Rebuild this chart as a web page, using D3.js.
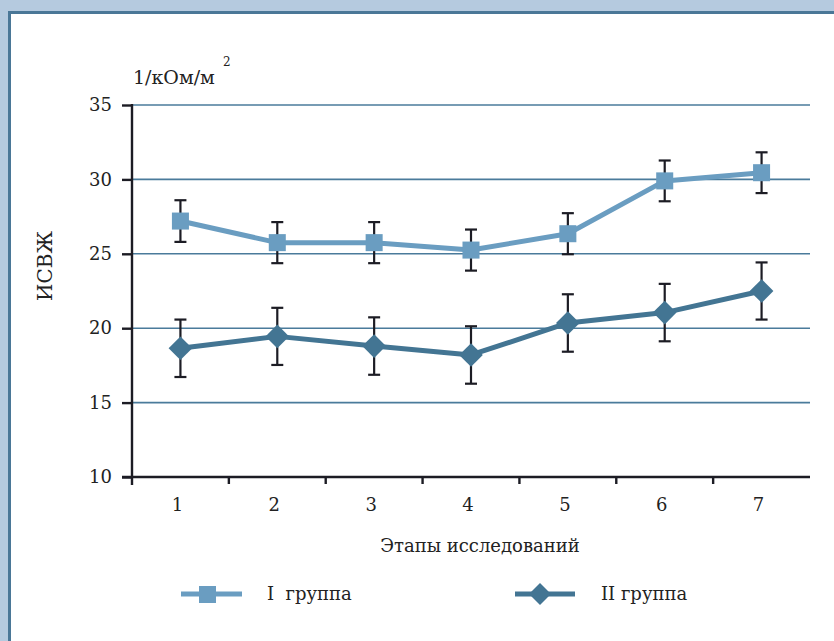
<!DOCTYPE html>
<html>
<head>
<meta charset="utf-8">
<script src="https://cdn.jsdelivr.net/npm/d3@7"></script>
<style>
  body { margin: 0; background: #b5cadf; }
  svg { display: block; }
  text { font-family: "DejaVu Serif", serif; fill: #222; }
</style>
</head>
<body>
<svg id="chart" width="834" height="641"></svg>
<script>
// stages of study
var stages = ["1", "2", "3", "4", "5", "6", "7"];
// I group (squares) - mean and error
var group1 = [27.2, 25.75, 25.75, 25.25, 26.35, 29.9, 30.45];
var group1Err = [1.4, 1.38, 1.38, 1.38, 1.38, 1.37, 1.37];
// II group (diamonds)
var group2 = [18.65, 19.45, 18.8, 18.2, 20.35, 21.05, 22.5];
var group2Err = [1.93, 1.92, 1.93, 1.93, 1.93, 1.93, 1.92];
var yTicks = [10, 15, 20, 25, 30, 35];

var svg = d3.select("#chart");

// frame: light blue background, white panel with dark top/left edge
svg.append("rect").attr("width", 834).attr("height", 641).attr("fill", "#b5cadf");
svg.append("rect").attr("x", 8).attr("y", 11).attr("width", 840).attr("height", 650)
    .attr("fill", "#fff");
svg.append("path").attr("d", "M9.5,660V12.5H840")
    .attr("fill", "none").attr("stroke", "#4a7797").attr("stroke-width", 3);

var plotL = 132, plotR = 810, plotT = 105, plotB = 477;

var x = d3.scaleBand().domain(stages).range([plotL, plotR]);
var y = d3.scaleLinear().domain([10, 35]).range([plotB, plotT]);

// gridlines
svg.append("g").selectAll("line")
    .data(yTicks.filter(function (d) { return d > 10; }))
    .enter().append("line")
    .attr("x1", plotL).attr("x2", plotR)
    .attr("y1", function (d) { return y(d); })
    .attr("y2", function (d) { return y(d); })
    .attr("stroke", "#4a7b9b").attr("stroke-width", 1.6);

// y axis
var yAxis = svg.append("g").attr("transform", "translate(" + plotL + ",0)")
    .call(d3.axisLeft(y).tickValues(yTicks).tickSize(10).tickPadding(10));
yAxis.select(".domain").remove();
yAxis.append("line").attr("y1", plotT - 1).attr("y2", plotB + 8)
    .attr("stroke", "#1c1c24").attr("stroke-width", 2.4);
yAxis.selectAll(".tick line").attr("stroke", "#1c1c24").attr("stroke-width", 2.4);
yAxis.selectAll(".tick text").style("font-size", "18px").style("font-family", "DejaVu Serif").attr("fill", "#222");

// x axis: ticks on band edges, labels at band centres
var xAxis = svg.append("g").attr("transform", "translate(0," + plotB + ")");
xAxis.append("line").attr("x1", plotL - 10).attr("x2", plotR)
    .attr("stroke", "#1c1c24").attr("stroke-width", 2.4);
xAxis.selectAll(".xt").data(stages.slice(1)).enter().append("line")
    .attr("x1", function (d) { return x(d); }).attr("x2", function (d) { return x(d); })
    .attr("y1", 0).attr("y2", 7)
    .attr("stroke", "#1c1c24").attr("stroke-width", 2.4);
xAxis.selectAll(".xl").data(stages).enter().append("text")
    .attr("x", function (d) { return x(d) + x.bandwidth() / 2 - 3; })
    .attr("y", 34).attr("text-anchor", "middle")
    .style("font-size", "18px").text(function (d) { return d; });

// axis titles
svg.append("text").attr("x", 480).attr("y", 552).attr("text-anchor", "middle")
    .style("font-size", "18px").text("Этапы исследований");
svg.append("text").attr("transform", "translate(52,266) rotate(-90)")
    .attr("text-anchor", "middle").style("font-size", "20px").text("ИСВЖ");
var unit = svg.append("text").attr("x", 133).attr("y", 84).style("font-size", "19px");
unit.append("tspan").text("1/кОм/м");
unit.append("tspan").attr("dy", -18).attr("dx", 8).style("font-size", "12px").text("2");

function cx(d, i) { return x(stages[i]) + x.bandwidth() / 2; }

function drawSeries(vals, errs, color) {
    var g = svg.append("g");
    g.append("path").datum(vals)
        .attr("d", d3.line().x(cx).y(function (d) { return y(d); }))
        .attr("fill", "none").attr("stroke", color).attr("stroke-width", 5)
        .attr("stroke-linejoin", "round");
    var eb = g.selectAll(".err").data(vals).enter().append("g").attr("class", "err")
        .attr("stroke", "#1c1c24").attr("stroke-width", 2.2);
    eb.append("line")
        .attr("x1", cx).attr("x2", cx)
        .attr("y1", function (d, i) { return y(d + errs[i]); })
        .attr("y2", function (d, i) { return y(d - errs[i]); });
    [1, -1].forEach(function (s) {
        eb.append("line")
            .attr("x1", function (d, i) { return cx(d, i) - 6; })
            .attr("x2", function (d, i) { return cx(d, i) + 6; })
            .attr("y1", function (d, i) { return y(d + s * errs[i]); })
            .attr("y2", function (d, i) { return y(d + s * errs[i]); });
    });
    return g;
}

var g1 = drawSeries(group1, group1Err, "#6a9dc1");
g1.selectAll(".mk").data(group1).enter().append("path")
    .attr("transform", function (d, i) { return "translate(" + cx(d, i) + "," + y(d) + ")"; })
    .attr("d", d3.symbol().type(d3.symbolSquare).size(290))
    .attr("fill", "#6a9dc1");

var g2 = drawSeries(group2, group2Err, "#437593");
g2.selectAll(".mk").data(group2).enter().append("path")
    .attr("transform", function (d, i) { return "translate(" + cx(d, i) + "," + y(d) + ") rotate(45)"; })
    .attr("d", d3.symbol().type(d3.symbolSquare).size(280))
    .attr("fill", "#437593");

// legend
var leg = svg.append("g");
leg.append("line").attr("x1", 181).attr("x2", 242).attr("y1", 594).attr("y2", 594)
    .attr("stroke", "#6a9dc1").attr("stroke-width", 5);
leg.append("rect").attr("x", 199).attr("y", 586).attr("width", 17).attr("height", 17)
    .attr("fill", "#6a9dc1");
leg.append("text").attr("x", 267).attr("y", 600).style("font-size", "18px")
    .attr("xml:space", "preserve").text("I  группа");
leg.append("line").attr("x1", 515).attr("x2", 575).attr("y1", 594).attr("y2", 594)
    .attr("stroke", "#437593").attr("stroke-width", 5);
leg.append("path").attr("transform", "translate(540,594) rotate(45)")
    .attr("d", d3.symbol().type(d3.symbolSquare).size(240))
    .attr("fill", "#437593");
leg.append("text").attr("x", 601).attr("y", 600).style("font-size", "18px").text("II группа");
</script>
</body>
</html>
